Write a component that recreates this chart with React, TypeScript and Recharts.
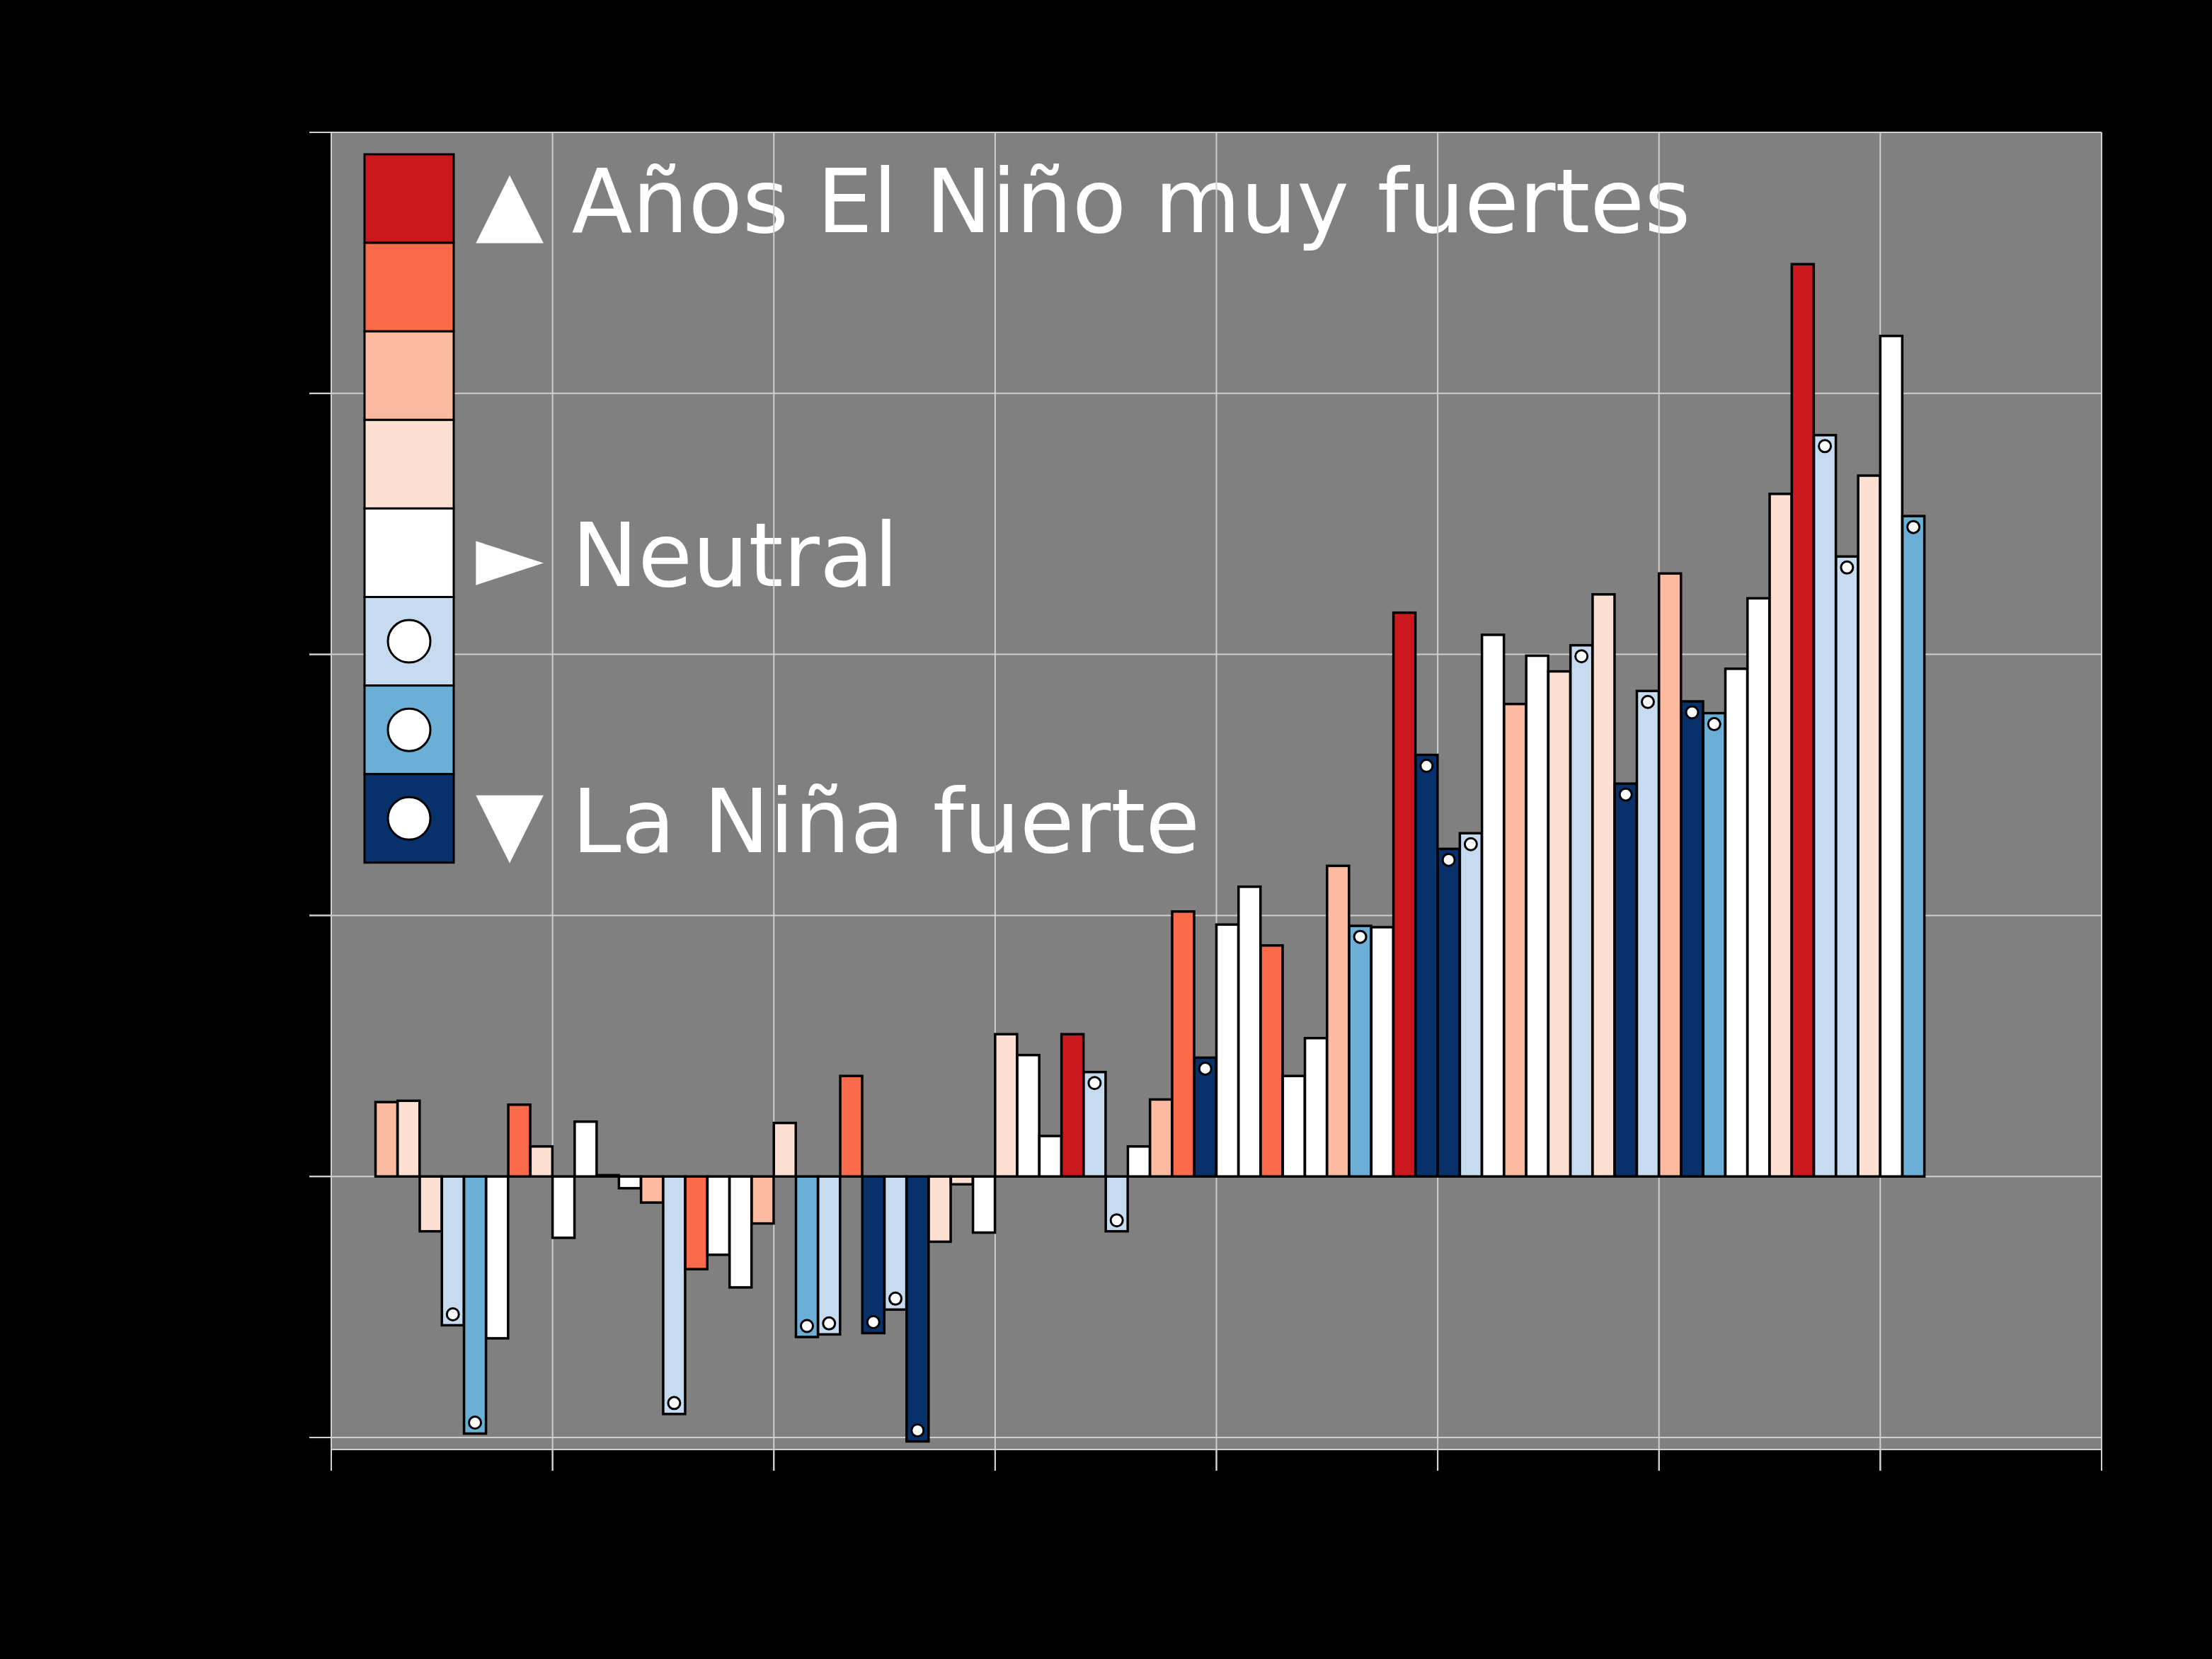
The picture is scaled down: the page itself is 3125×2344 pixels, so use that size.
import React from 'react';
import { BarChart, Bar, XAxis, YAxis, CartesianGrid } from 'recharts';

// Global temperature anomaly per year, coloured by ENSO phase
const years = [
  1952, 1953, 1954, 1955, 1956, 1957, 1958, 1959, 1960, 1961,
  1962, 1963, 1964, 1965, 1966, 1967, 1968, 1969, 1970, 1971,
  1972, 1973, 1974, 1975, 1976, 1977, 1978, 1979, 1980, 1981,
  1982, 1983, 1984, 1985, 1986, 1987, 1988, 1989, 1990, 1991,
  1992, 1993, 1994, 1995, 1996, 1997, 1998, 1999, 2000, 2001,
  2002, 2003, 2004, 2005, 2006, 2007, 2008, 2009, 2010, 2011,
  2012, 2013, 2014, 2015, 2016, 2017, 2018, 2019, 2020, 2021,
];

const anomalies = [
  0.057, 0.058, -0.042, -0.114, -0.197, -0.124, 0.055, 0.023, -0.047, 0.042,
  0.001, -0.009, -0.020, -0.182, -0.071, -0.060, -0.085, -0.036, 0.041, -0.123,
  -0.121, 0.077, -0.120, -0.102, -0.203, -0.050, -0.006, -0.043, 0.109, 0.093,
  0.031, 0.109, 0.080, -0.042, 0.023, 0.059, 0.203, 0.091, 0.193, 0.222,
  0.177, 0.077, 0.106, 0.238, 0.192, 0.191, 0.432, 0.323, 0.251, 0.263,
  0.415, 0.362, 0.399, 0.387, 0.407, 0.446, 0.301, 0.372, 0.462, 0.364,
  0.355, 0.389, 0.443, 0.523, 0.699, 0.568, 0.475, 0.537, 0.644, 0.506,
];

// EMF/EF/EM/ED = El Niño muy fuerte/fuerte/moderado/débil, N = neutral, LD/LM/LF = La Niña
const phases = [
  'EM', 'ED', 'ED', 'LD', 'LM', 'N', 'EF', 'ED', 'N', 'N',
  'N', 'N', 'EM', 'LD', 'EF', 'N', 'N', 'EM', 'ED', 'LM',
  'LD', 'EF', 'LF', 'LD', 'LF', 'ED', 'ED', 'N', 'ED', 'N',
  'N', 'EMF', 'LD', 'LD', 'N', 'EM', 'EF', 'LF', 'N', 'N',
  'EF', 'N', 'N', 'EM', 'LM', 'N', 'EMF', 'LF', 'LF', 'LD',
  'N', 'EM', 'N', 'ED', 'LD', 'ED', 'LF', 'LD', 'EM', 'LF',
  'LM', 'N', 'N', 'ED', 'EMF', 'LD', 'LD', 'ED', 'N', 'LM',
];

const decadeTicks = [1950, 1960, 1970, 1980, 1990, 2000, 2010, 2020, 2030];
const anomalyTicks = [-0.2, 0, 0.2, 0.4, 0.6, 0.8];

const phaseOrder = ['EMF', 'EF', 'EM', 'ED', 'N', 'LD', 'LM', 'LF'];
const phaseColors: Record<string, string> = {
  EMF: '#cb181d',
  EF: '#fb6a4a',
  EM: '#fcbba1',
  ED: '#fee0d2',
  N: '#ffffff',
  LD: '#c6dbef',
  LM: '#6baed6',
  LF: '#08306b',
};
const ninaPhases = ['LD', 'LM', 'LF'];

const legendLines = [
  { text: '▲ Años El Niño muy fuertes', row: 0 },
  { text: '► Neutral', row: 4 },
  { text: '▼ La Niña fuerte', row: 7 },
];

const data = years.map((year, i) => ({ year, value: anomalies[i], phase: phases[i] }));

const W = 3125;
const H = 2344;
const MARGIN = { top: 187, right: 156, bottom: 216, left: 388 };
const FONT = '"DejaVu Sans", sans-serif';
const GRID = '#d0d0d0';

// legend swatch column
const SW_X = 515;
const SW_Y = 218;
const SW_W = 126;
const SW_H = 125.1;

const BarShape = (props: any) => {
  const { x, y, width, height, payload } = props;
  if (width == null || height == null) return null;
  const top = Math.min(y, y + height);
  const h = Math.abs(height);
  const positive = payload.value >= 0;
  const cy = positive ? top + 15.5 : top + h - 15.5;
  return (
    <g>
      <rect x={x} y={top} width={width} height={h} fill={phaseColors[payload.phase]} stroke="#000" strokeWidth={3.5} />
      {ninaPhases.includes(payload.phase) && (
        <circle cx={x + width / 2} cy={cy} r={8.5} fill="#fff" stroke="#000" strokeWidth={3} />
      )}
    </g>
  );
};

const Frame = ({ layer }: { layer: 'back' | 'front' }) => (
  <BarChart width={W} height={H} data={data} margin={MARGIN} barCategoryGap={0} barGap={0}>
    {layer === 'back' ? (
      <CartesianGrid xAxisId="num" fill="#808080" horizontal={false} vertical={false} />
    ) : (
      <CartesianGrid xAxisId="num" stroke={GRID} strokeWidth={2} />
    )}
    <XAxis
      xAxisId="num"
      dataKey="year"
      type="number"
      domain={[1950, 2030]}
      ticks={decadeTicks}
      allowDataOverflow
      height={80}
      tickSize={30}
      axisLine={false}
      tickLine={{ stroke: GRID, strokeWidth: 2 }}
      tick={{ fill: '#000', fontSize: 42, fontFamily: FONT }}
    />
    <XAxis xAxisId="cat" dataKey="year" type="category" hide height={0} padding={{ left: 62.5, right: 250.1 }} />
    <YAxis
      domain={[-0.2092, 0.8]}
      ticks={anomalyTicks}
      allowDataOverflow
      width={80}
      tickSize={31}
      axisLine={false}
      tickLine={{ stroke: GRID, strokeWidth: 2 }}
      tick={{ fill: '#000', fontSize: 42, fontFamily: FONT }}
      tickFormatter={(v: number) => v.toFixed(1)}
    />
    {layer === 'front' && (
      <Bar xAxisId="cat" dataKey="value" isAnimationActive={false} shape={(p: any) => <BarShape {...p} />} />
    )}
  </BarChart>
);

const layerStyle: React.CSSProperties = { position: 'absolute', left: 0, top: 0 };

export default function App() {
  return (
    <div style={{ position: 'absolute', left: 0, top: 0, width: W, height: H, background: '#000', overflow: 'hidden' }}>
      <div style={layerStyle}>
        <Frame layer="back" />
      </div>
      {/* legend labels sit under the grid lines */}
      <svg width={W} height={H} style={layerStyle}>
        {legendLines.map((l) => (
          <text
            key={l.text}
            x={672}
            y={SW_Y + SW_H * (l.row + 0.5) + 47.5}
            fill="#fff"
            fontSize={125}
            fontFamily={FONT}
          >
            {l.text}
          </text>
        ))}
      </svg>
      <div style={layerStyle}>
        <Frame layer="front" />
      </div>
      {/* colour key */}
      <svg width={W} height={H} style={layerStyle}>
        {phaseOrder.map((ph, k) => (
          <g key={ph}>
            <rect x={SW_X} y={SW_Y + SW_H * k} width={SW_W} height={SW_H} fill={phaseColors[ph]} stroke="#000" strokeWidth={3} />
            {ninaPhases.includes(ph) && (
              <circle cx={SW_X + SW_W / 2} cy={SW_Y + SW_H * (k + 0.5)} r={30} fill="#fff" stroke="#000" strokeWidth={3} />
            )}
          </g>
        ))}
      </svg>
    </div>
  );
}
